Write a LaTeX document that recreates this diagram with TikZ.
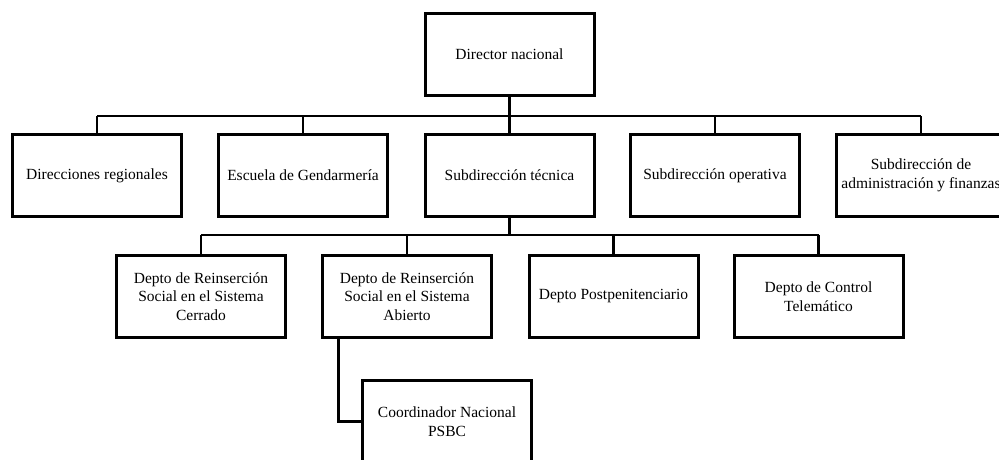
\documentclass[tikz,border=0pt]{standalone}
\usepackage{fontspec}
\setmainfont{Liberation Serif}
\usetikzlibrary{calc}
\begin{document}
\begin{tikzpicture}[x=1pt,y=-1pt,
  orgbox/.style={draw,line width=3pt,minimum width=169pt,minimum height=82.5pt,
    inner sep=2pt,outer sep=0pt,align=center,font=\fontsize{15.5}{18.5}\selectfont},
  conn/.style={line width=2.8pt}]
\clip (0,0) rectangle (999,459);
\fill[white] (0,0) rectangle (999,459);
% top
\node[orgbox] (dir) at (509.5,54.5) {Director nacional};
% second row
\node[orgbox] (r1) at (97,175.5) {Direcciones regionales};
\node[orgbox] (r2) at (303,175.5) {Escuela de Gendarmería};
\node[orgbox] (r3) at (509.5,175.5) {Subdirección técnica};
\node[orgbox] (r4) at (715,175.5) {Subdirección operativa};
\node[orgbox] (r5) at (921,175.5) {Subdirección de\\administración y finanzas};
% third row
\node[orgbox] (d1) at (201,296.5) {Depto de Reinserción\\Social en el Sistema\\Cerrado};
\node[orgbox] (d2) at (407,296.5) {Depto de Reinserción\\Social en el Sistema\\Abierto};
\node[orgbox] (d3) at (613.5,296.5) {Depto Postpenitenciario};
\node[orgbox] (d4) at (818.5,296.5) {Depto de Control\\Telemático};
% fourth
\node[orgbox] (c1) at (447,421.5) {Coordinador Nacional\\PSBC};
% connectors
\coordinate (bus1) at (0,116);
\coordinate (bus2) at (0,235);
\draw[conn] (dir.south) -- (dir.south |- bus1);
\draw[conn] (r1.north |- bus1) -- (r5.north |- bus1);
\foreach \n in {r1,r2,r3,r4,r5} \draw[conn] (\n.north) -- (\n.north |- bus1);
\draw[conn] (r3.south) -- (r3.south |- bus2);
\draw[conn] (d1.north |- bus2) -- (d4.north |- bus2);
\foreach \n in {d1,d2,d3,d4} \draw[conn] (\n.north) -- (\n.north |- bus2);
\coordinate (d2drop) at ($(d2.south west)+(16,0)$);
\draw[conn] (d2drop) |- (c1.west);
\end{tikzpicture}
\end{document}
